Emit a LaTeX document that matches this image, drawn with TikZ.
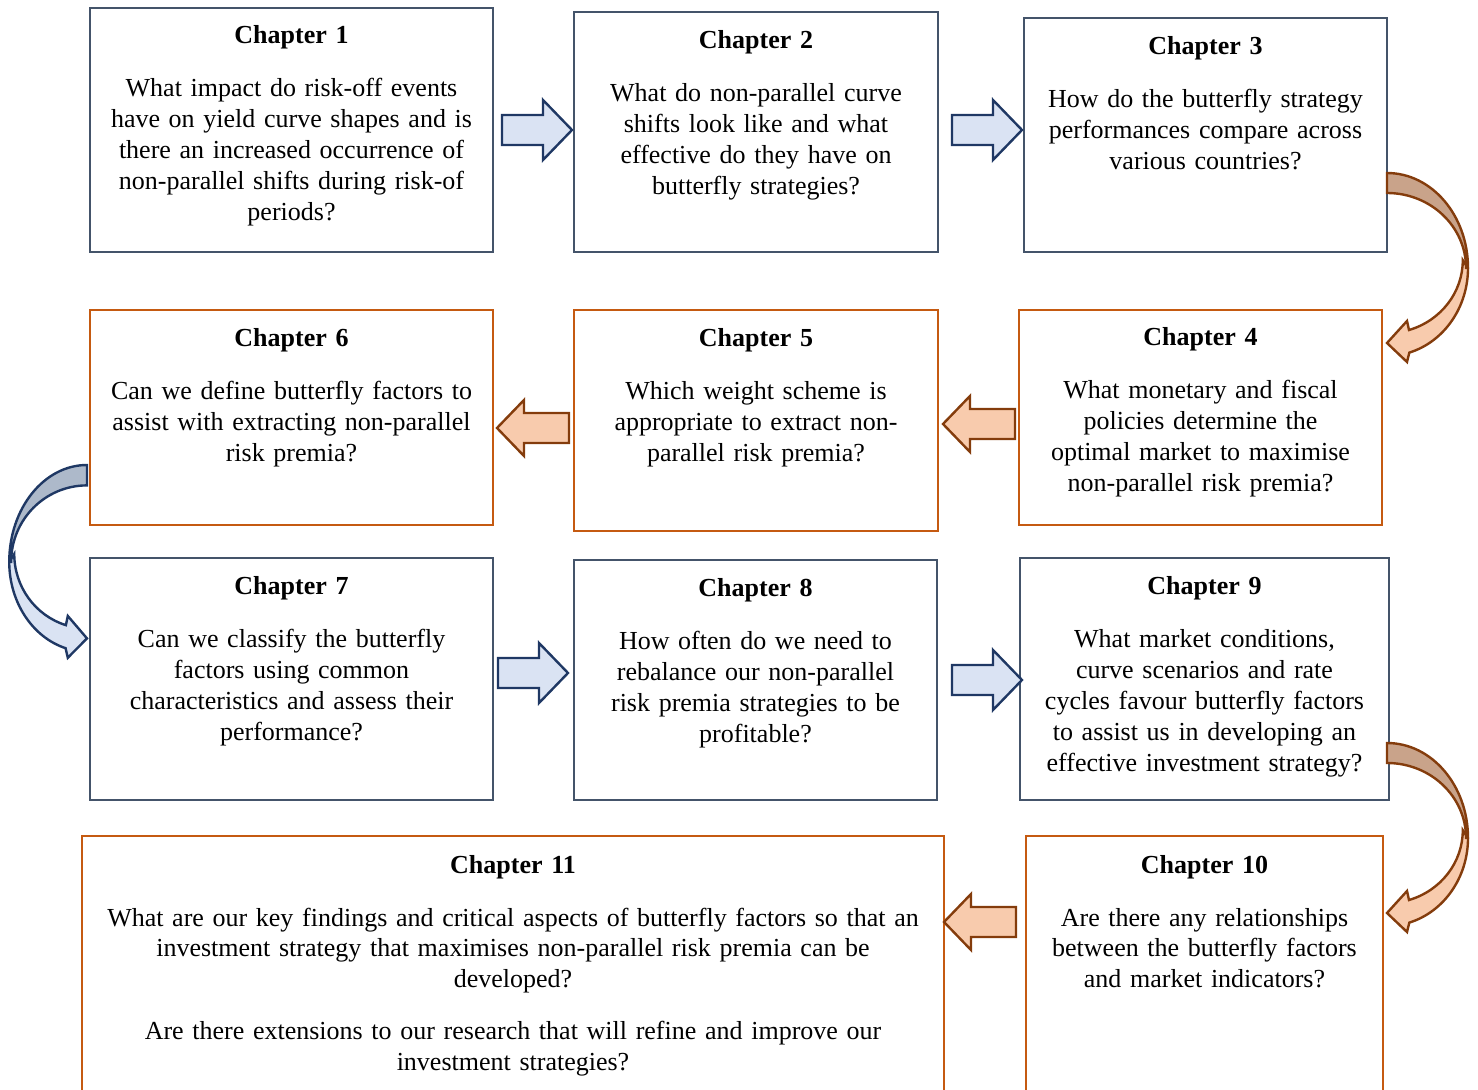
\documentclass[tikz,border=0pt]{standalone}
\usepackage{fontspec}
\setmainfont{Liberation Serif}
\usetikzlibrary{fit}
\definecolor{boxb}{HTML}{44546A}
\definecolor{boxo}{HTML}{C55A11}
\definecolor{navy}{HTML}{1F3864}
\definecolor{lblue}{HTML}{DAE3F3}
\definecolor{dblue}{HTML}{ADB9CA}
\definecolor{brwn}{HTML}{843C0C}
\definecolor{peach}{HTML}{F8CBAD}
\definecolor{dpeach}{HTML}{C9A38A}
\tikzset{
  bxb/.style={draw=boxb, line width=1pt, inner sep=0pt},
  bxo/.style={draw=boxo, line width=1pt, inner sep=0pt},
  txt/.style={anchor=base, align=center, inner sep=0pt, text width=#1,
              font=\fontsize{13}{15.4}\selectfont},
  barb/.style={draw=navy, fill=lblue, line width=1.2pt},
  baro/.style={draw=brwn, fill=peach, line width=1.2pt},
  cdb/.style={draw=navy, fill=dblue, line width=1.2pt},
  cdo/.style={draw=brwn, fill=dpeach, line width=1.2pt},
}
\newcommand\RArr[3]{\path[#3] (#1,#2) ++(0,-15) -- ++(41,0) -- ++(0,-15) -- ++(29,30) -- ++(-29,30) -- ++(0,-15) -- ++(-41,0) -- cycle;}
\newcommand\LArr[3]{\path[#3] (#1,#2) -- ++(27,-28) -- ++(0,13) -- ++(45,0) -- ++(0,30) -- ++(-45,0) -- ++(0,13) -- cycle;}
\newcommand\CArr[2]{%
  \path[#1] (81,95) arc[start angle=0,end angle=74,x radius=81,y radius=88] -- (20,189) -- (0,170) -- (20,148) -- (22,157) arc[start angle=73,end angle=0,x radius=76,y radius=73] -- cycle;
  \path[#2] (0,0) arc[start angle=-90,end angle=0,x radius=81,y radius=95] -- (79,95) arc[start angle=0,end angle=-90,x radius=79,y radius=75] -- cycle;}
\begin{document}
\begin{tikzpicture}[x=0.5pt,y=-0.5pt]
\useasboundingbox (0,0) rectangle (1478,1090);
\clip (0,0) rectangle (1478,1090);
% boxes
\node[bxb, fit={(90,8) (493,252)}] (c1) {};
\node[bxb, fit={(574,12) (938,252)}] (c2) {};
\node[bxb, fit={(1024,18) (1387,252)}] (c3) {};
\node[bxo, fit={(1019,310) (1382,525)}] (c4) {};
\node[bxo, fit={(574,310) (938,531)}] (c5) {};
\node[bxo, fit={(90,310) (493,525)}] (c6) {};
\node[bxb, fit={(90,558) (493,800)}] (c7) {};
\node[bxb, fit={(574,560) (937,800)}] (c8) {};
\node[bxb, fit={(1020,558) (1389,800)}] (c9) {};
\node[bxo, fit={(1026,836) (1383,1110)}] (c10) {};
\node[bxo, fit={(82,836) (944,1110)}] (c11) {};
% texts
\node[txt=240pt] (t1) at (291.5,44) {\textbf{Chapter 1}\\[11.1pt]What impact do risk-off events\\have on yield curve shapes and is\\there an increased occurrence of\\non-parallel shifts during risk-of\\periods?};
\node[txt=240pt] (t2) at (756,49) {\textbf{Chapter 2}\\[11.1pt]What do non-parallel curve\\shifts look like and what\\effective do they have on\\butterfly strategies?};
\node[txt=240pt] (t3) at (1205.5,55) {\textbf{Chapter 3}\\[11.1pt]How do the butterfly strategy\\performances compare across\\various countries?};
\node[txt=240pt] (t4) at (1200.5,346) {\textbf{Chapter 4}\\[11.1pt]What monetary and fiscal\\policies determine the\\optimal market to maximise\\non-parallel risk premia?};
\node[txt=240pt] (t5) at (756,347) {\textbf{Chapter 5}\\[11.1pt]Which weight scheme is\\appropriate to extract non-\\parallel risk premia?};
\node[txt=240pt] (t6) at (291.5,347) {\textbf{Chapter 6}\\[11.1pt]Can we define butterfly factors to\\assist with extracting non-parallel\\risk premia?};
\node[txt=240pt] (t7) at (291.5,595) {\textbf{Chapter 7}\\[11.1pt]Can we classify the butterfly\\factors using common\\characteristics and assess their\\performance?};
\node[txt=240pt] (t8) at (755.5,597) {\textbf{Chapter 8}\\[11.1pt]How often do we need to\\rebalance our non-parallel\\risk premia strategies to be\\profitable?};
\node[txt=240pt] (t9) at (1204.5,595) {\textbf{Chapter 9}\\[11.1pt]What market conditions,\\curve scenarios and rate\\cycles favour butterfly factors\\to assist us in developing an\\effective investment strategy?};
\node[txt=240pt] (t10) at (1204.5,873) {\textbf{Chapter 10}\\[11.1pt]Are there any relationships\\between the butterfly factors\\and market indicators?};
\node[txt=440pt] (t11) at (513,873) {\textbf{Chapter 11}\\[11.1pt]What are our key findings and critical aspects of butterfly factors so that an\\investment strategy that maximises non-parallel risk premia can be\\developed?\\[10.6pt]Are there extensions to our research that will refine and improve our\\investment strategies?};
% straight block arrows
\RArr{502}{130}{barb}
\RArr{952}{130}{barb}
\RArr{498}{673}{barb}
\RArr{952}{680}{barb}
\LArr{497}{428}{baro}
\LArr{943}{424}{baro}
\LArr{944}{922}{baro}
% curved arrows
\begin{scope}[shift={(1387,173)}]\CArr{baro}{cdo}\end{scope}
\begin{scope}[shift={(1387,743)}]\CArr{baro}{cdo}\end{scope}
\begin{scope}[shift={(87,465)},xscale=-0.96,yscale=1.02]\CArr{barb}{cdb}\end{scope}
\end{tikzpicture}
\end{document}
